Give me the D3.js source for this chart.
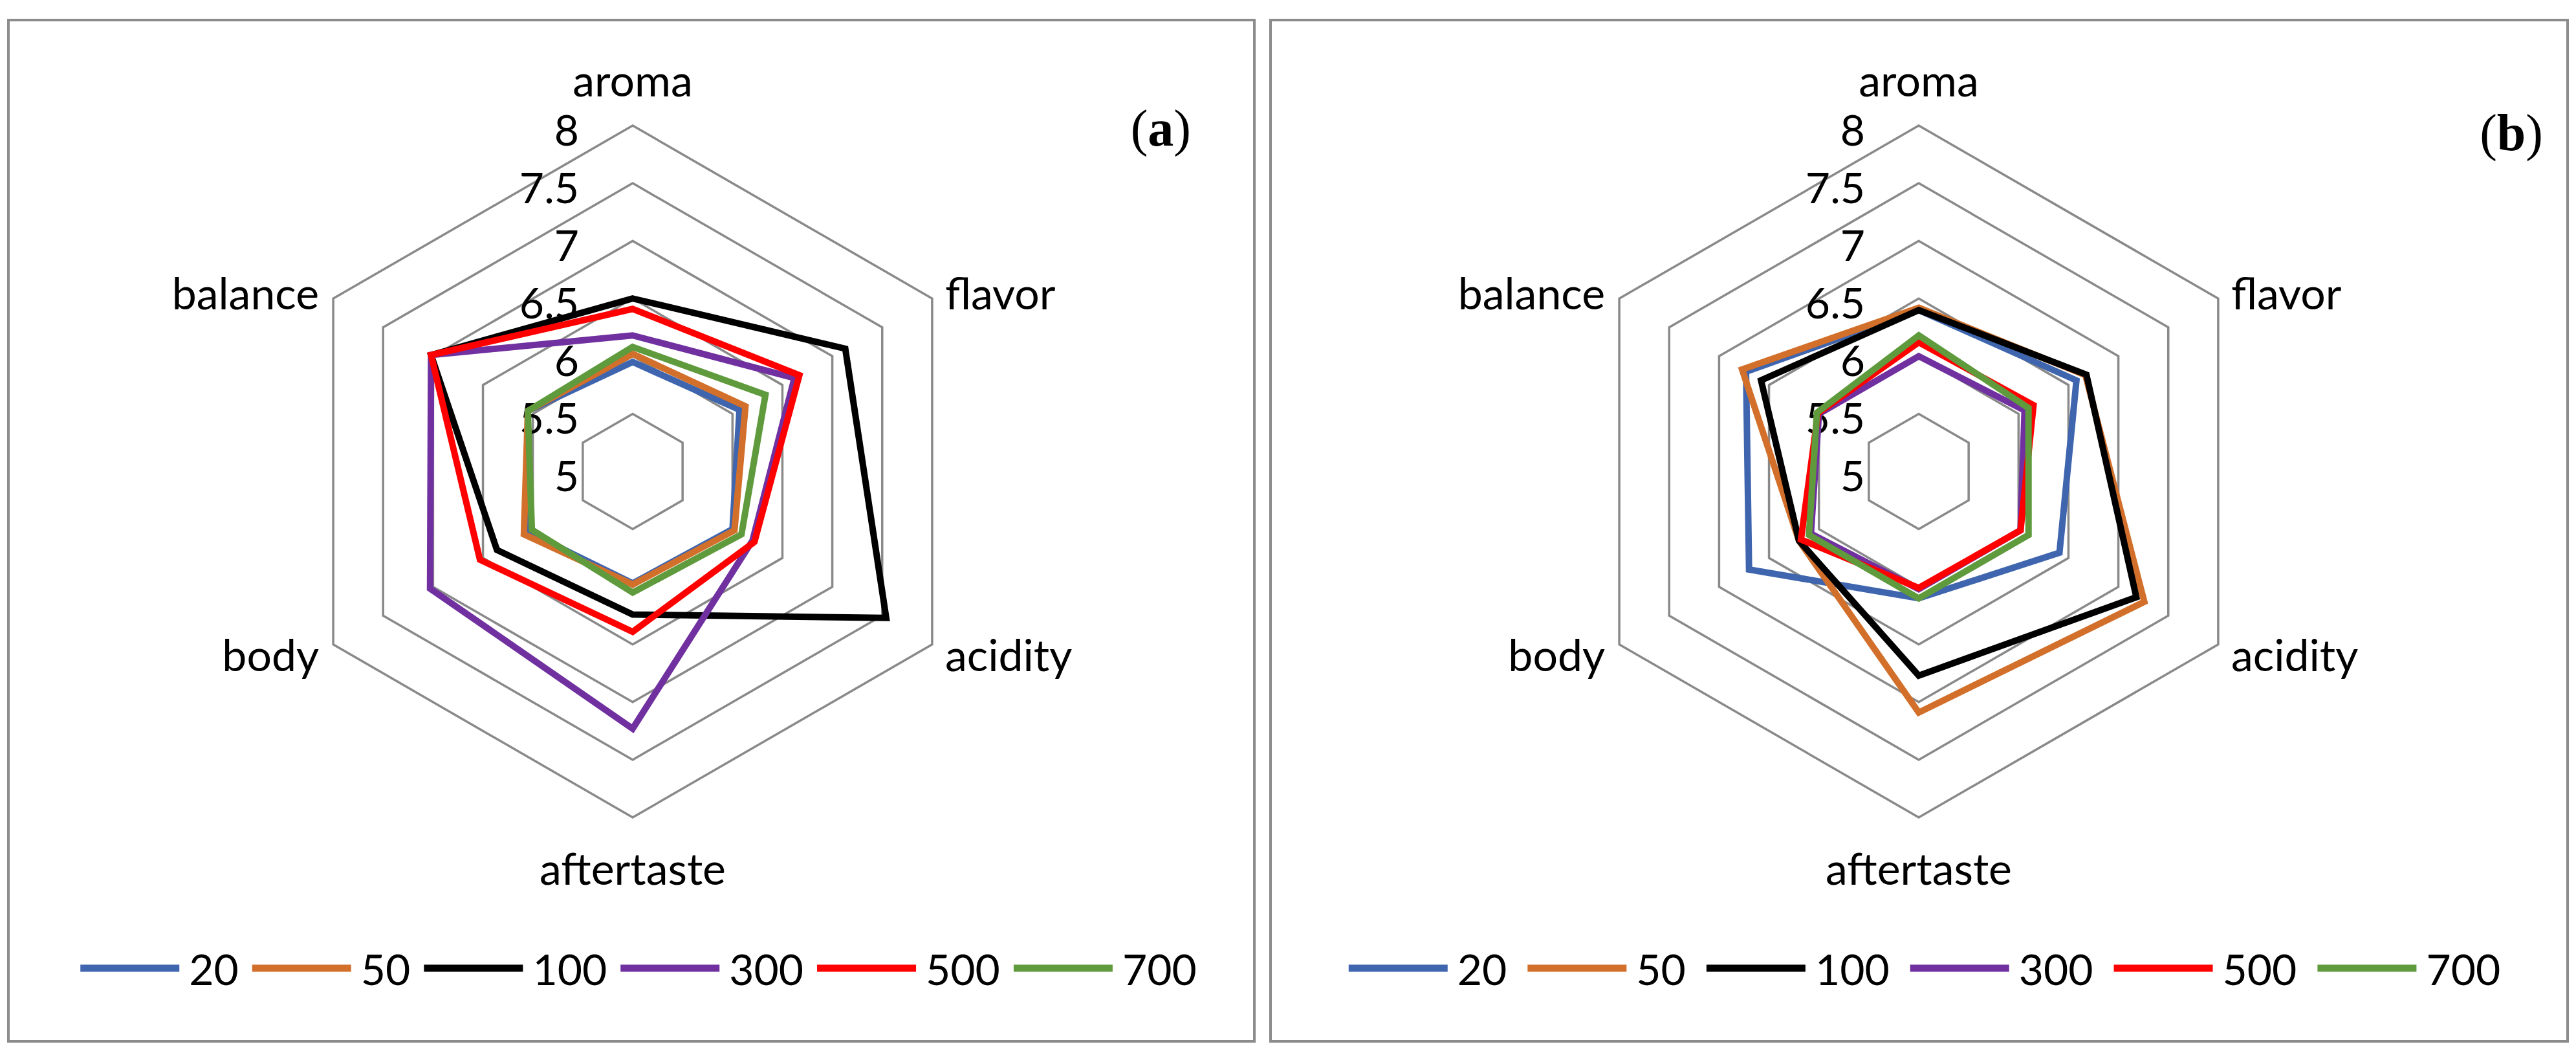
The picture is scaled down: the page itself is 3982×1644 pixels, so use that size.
<!DOCTYPE html>
<html>
<head>
<meta charset="utf-8">
<script src="https://cdn.jsdelivr.net/npm/d3@7"></script>
<style>
  body { margin: 0; background: #fff; }
  text { font-family: Lato, "Open Sans", sans-serif; fill: #000; }
</style>
</head>
<body>
<div id="chart"></div>
<script>
// attributes round the radar, clockwise from the top
let attributes = ["aroma", "flavor", "acidity", "aftertaste", "body", "balance"];
let seriesNames = ["20", "50", "100", "300", "500", "700"];
let tickValues = [5, 5.5, 6, 6.5, 7, 7.5, 8];

// panel (a)
let a20  = [5.95, 6.07, 6.00, 5.97, 6.05, 6.05];
let a50  = [6.02, 6.13, 6.02, 5.98, 6.09, 6.05];
let a100 = [6.50, 7.13, 7.54, 6.24, 6.36, 7.02];
let a300 = [6.18, 6.62, 6.20, 7.23, 7.03, 7.02];
let a500 = [6.41, 6.67, 6.22, 6.39, 6.53, 7.02];
let a700 = [6.08, 6.33, 6.09, 6.05, 6.01, 6.05];

// panel (b)
let b20  = [6.40, 6.58, 6.41, 6.10, 6.70, 6.73];
let b50  = [6.42, 6.67, 7.26, 7.09, 6.20, 6.77];
let b100 = [6.40, 6.68, 7.18, 6.77, 6.20, 6.58];
let b300 = [6.00, 6.06, 6.02, 6.02, 6.08, 6.00];
let b500 = [6.12, 6.15, 6.02, 6.01, 6.18, 6.01];
let b700 = [6.18, 6.10, 6.10, 6.10, 6.10, 6.02];

let colors = ["#3E65AE", "#D2702B", "#000000", "#7030A0", "#FF0000", "#5F9A3C"];

let width = 3982, height = 1644;
let radius = 534.5;

let panels = [
  { letter: "a", series: [a20, a50, a100, a300, a500, a700], left: 13, right: 1939, cx: 978, letterX: 1841, letterY: 198, gap: 21 },
  { letter: "b", series: [b20, b50, b100, b300, b500, b700], left: 1964, right: 3969, cx: 2966, letterX: 3931, letterY: 205, gap: 32 }
];
let cy = 728.5;

let svg = d3.select("#chart").append("svg")
  .attr("width", width)
  .attr("height", height);

let r = d3.scaleLinear().domain([5, 8]).range([0, radius]);
let angle = d3.scalePoint().domain(attributes).range([0, 2 * Math.PI * 5 / 6]);

let line = d3.lineRadial()
  .angle(function(d, i) { return angle(attributes[i]); })
  .radius(function(d) { return r(d); })
  .curve(d3.curveLinearClosed);

panels.forEach(function(p) {
  // frame
  svg.append("rect")
    .attr("x", p.left).attr("y", 31)
    .attr("width", p.right - p.left).attr("height", 1578)
    .attr("fill", "none").attr("stroke", "#8c8c8c").attr("stroke-width", 4);

  let g = svg.append("g").attr("transform", "translate(" + p.cx + "," + cy + ")");

  // hexagon rings
  g.selectAll(".ring")
    .data(tickValues.slice(1))
    .enter().append("path")
    .attr("class", "ring")
    .attr("d", function(t) { return line(attributes.map(function() { return t; })); })
    .attr("fill", "none")
    .attr("stroke", "#898989")
    .attr("stroke-width", 3.5);

  // tick labels
  g.selectAll(".tick")
    .data(tickValues)
    .enter().append("text")
    .attr("class", "tick")
    .attr("x", -83)
    .attr("y", function(t) { return -r(t) + 5; })
    .attr("text-anchor", "end")
    .attr("dominant-baseline", "central")
    .style("font-size", "66px")
    .text(function(t) { return t; });

  // series
  g.selectAll(".series")
    .data(p.series)
    .enter().append("path")
    .attr("class", "series")
    .attr("d", line)
    .attr("fill", "none")
    .attr("stroke", function(d, i) { return colors[i]; })
    .attr("stroke-width", 10)
    .attr("stroke-linejoin", "miter");

  // attribute labels
  g.selectAll(".cat")
    .data(attributes)
    .enter().append("text")
    .attr("class", "cat")
    .style("font-size", "68px")
    .attr("dominant-baseline", "central")
    .attr("text-anchor", function(d) {
      let a = angle(d);
      if (Math.abs(Math.sin(a)) < 0.01) return "middle";
      return Math.sin(a) > 0 ? "start" : "end";
    })
    .attr("x", function(d) {
      let a = angle(d);
      let s = Math.sin(a);
      if (Math.abs(s) < 0.01) return 0;
      return radius * s + (s > 0 ? 20 : -22);
    })
    .attr("y", function(d) {
      let a = angle(d);
      let c = Math.cos(a);
      if (Math.abs(c) > 0.99) return c > 0 ? -radius - 72 : radius + 77;
      return -radius * c + (c > 0 ? -10 : 15);
    })
    .text(function(d) { return d; });

  // panel letter
  let lt = svg.append("text")
    .attr("x", p.letterX).attr("y", p.letterY)
    .attr("text-anchor", "end")
    .attr("dominant-baseline", "central")
    .style("font-family", "'Liberation Serif', 'Times New Roman', serif")
    .style("font-size", "80px");
  lt.append("tspan").text("(");
  lt.append("tspan").style("font-weight", "bold").text(p.letter);
  lt.append("tspan").text(")");

  // legend
  let leg = svg.append("g");
  let items = leg.selectAll(".item")
    .data(seriesNames)
    .enter().append("g")
    .attr("class", "item");
  items.append("line")
    .attr("x1", 0).attr("x2", 153)
    .attr("y1", 0).attr("y2", 0)
    .attr("stroke", function(d, i) { return colors[i]; })
    .attr("stroke-width", 11);
  items.append("text")
    .attr("x", 168)
    .attr("dominant-baseline", "central")
    .style("font-size", "66px")
    .text(function(d) { return d; });
  let xPos = 0;
  items.each(function() {
    let w = 168 + d3.select(this).select("text").node().getComputedTextLength();
    d3.select(this).attr("transform", "translate(" + xPos + ",0)");
    xPos += w + p.gap;
  });
  let total = xPos - p.gap;
  leg.attr("transform", "translate(" + (p.cx + 9 - total / 2) + ",1496)");
});
</script>
</body>
</html>
